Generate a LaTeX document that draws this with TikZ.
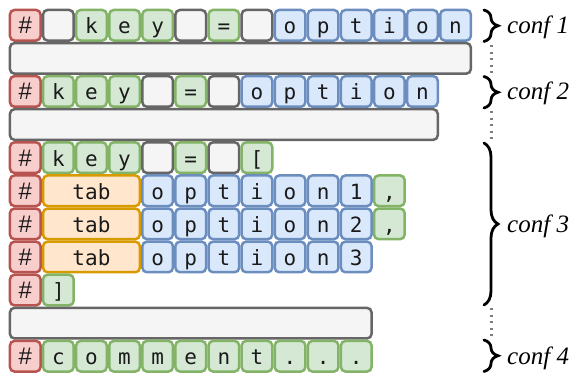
\documentclass[tikz,border=0pt]{standalone}
\usepackage{fontspec}
\setmainfont{Liberation Serif}
\newfontfamily\cellfont{DejaVu Sans Mono}
\newfontfamily\hashfont{Liberation Sans}
\usetikzlibrary{decorations.pathreplacing}
\definecolor{rfill}{HTML}{F8CECC}\definecolor{rdraw}{HTML}{B85450}
\definecolor{gfill}{HTML}{D5E8D4}\definecolor{gdraw}{HTML}{82B366}
\definecolor{bfill}{HTML}{DAE8FC}\definecolor{bdraw}{HTML}{6C8EBF}
\definecolor{ofill}{HTML}{FFE6CC}\definecolor{odraw}{HTML}{D79B00}
\definecolor{sfill}{HTML}{F5F5F5}\definecolor{sdraw}{HTML}{666666}
\definecolor{txt}{HTML}{1A1A1A}
\tikzset{
  cell/.style={draw, rounded corners=4.5pt, line width=2.5pt,
    minimum width=30.6pt, minimum height=30.6pt, inner sep=0pt,
    text height=19pt, text depth=2pt, text=txt,
    font=\cellfont\fontsize{21}{21}\selectfont},
  hashcell/.style={cell, fill=rfill, draw=rdraw, font=\hashfont\fontsize{24}{24}\selectfont},
  keycell/.style={cell, fill=gfill, draw=gdraw},
  optcell/.style={cell, fill=bfill, draw=bdraw},
  tabcell/.style={cell, fill=ofill, draw=odraw},
  spcell/.style={cell, fill=sfill, draw=sdraw},
  bracestyle/.style={decorate, decoration={brace, amplitude=14pt}, line width=2.8pt, line cap=round},
  dotline/.style={draw=sdraw!85, line width=2.2pt, dash pattern=on 2pt off 4.6pt},
  conf/.style={anchor=base west, inner sep=0pt, font=\itshape\fontsize{25}{25}\selectfont}
}
\newcommand\mkcells[4]{%
  \foreach \ch [count=\k from 0] in {#4}{%
    \pgfmathsetmacro\cx{25.25+33.1*(#2+\k)}%
    \pgfmathsetmacro\cy{25.25+33.1*#1}%
    \pgfmathtruncatemacro\cc{#2+\k}%
    \node[#3] (c-#1-\cc) at (\cx,\cy) {\ch};
  }}
\newcommand\mkwide[5]{%
  \pgfmathsetmacro\cx{8.7+33.1*#2+16.55*#3}%
  \pgfmathsetmacro\cy{25.25+33.1*#1}%
  \pgfmathsetmacro\ww{33.1*#3-2.5}%
  \node[#4, minimum width=\ww pt] (w-#1-#2) at (\cx,\cy) {#5};}
\begin{document}
\begin{tikzpicture}[x=1pt,y=-1pt]
\useasboundingbox (0,0) rectangle (574,377);
% row 0
\mkcells{0}{0}{hashcell}{\#}
\mkcells{0}{1}{spcell}{{}}
\mkcells{0}{2}{keycell}{k,e,y}
\mkcells{0}{5}{spcell}{{}}
\mkcells{0}{6}{keycell}{=}
\mkcells{0}{7}{spcell}{{}}
\mkcells{0}{8}{optcell}{o,p,t,i,o,n}
\mkwide{1}{0}{14}{spcell}{}
% row 2
\mkcells{2}{0}{hashcell}{\#}
\mkcells{2}{1}{keycell}{k,e,y}
\mkcells{2}{4}{spcell}{{}}
\mkcells{2}{5}{keycell}{=}
\mkcells{2}{6}{spcell}{{}}
\mkcells{2}{7}{optcell}{o,p,t,i,o,n}
\mkwide{3}{0}{13}{spcell}{}
% row 4
\mkcells{4}{0}{hashcell}{\#}
\mkcells{4}{1}{keycell}{k,e,y}
\mkcells{4}{4}{spcell}{{}}
\mkcells{4}{5}{keycell}{=}
\mkcells{4}{6}{spcell}{{}}
\mkcells{4}{7}{keycell}{{[}}
% rows 5-7
\mkcells{5}{0}{hashcell}{\#}
\mkwide{5}{1}{3}{tabcell}{tab}
\mkcells{5}{4}{optcell}{o,p,t,i,o,n,1}
\mkcells{5}{11}{keycell}{{,}}
\mkcells{6}{0}{hashcell}{\#}
\mkwide{6}{1}{3}{tabcell}{tab}
\mkcells{6}{4}{optcell}{o,p,t,i,o,n,2}
\mkcells{6}{11}{keycell}{{,}}
\mkcells{7}{0}{hashcell}{\#}
\mkwide{7}{1}{3}{tabcell}{tab}
\mkcells{7}{4}{optcell}{o,p,t,i,o,n,3}
% row 8
\mkcells{8}{0}{hashcell}{\#}
\mkcells{8}{1}{keycell}{{]}}
\mkwide{9}{0}{11}{spcell}{}
% row 10
\mkcells{10}{0}{hashcell}{\#}
\mkcells{10}{1}{keycell}{c,o,m,m,e,n,t,.,.,.}
% braces
\coordinate (b1t) at (484,10);  \coordinate (b1b) at (484,41.5);
\coordinate (b2t) at (484,76.5);  \coordinate (b2b) at (484,108);
\coordinate (b3t) at (484,143);  \coordinate (b3b) at (484,305);
\coordinate (b4t) at (484,340);  \coordinate (b4b) at (484,371.5);
\draw[bracestyle] (b1t) -- (b1b);
\draw[bracestyle] (b2t) -- (b2b);
\draw[bracestyle] (b3t) -- (b3b);
\draw[bracestyle] (b4t) -- (b4b);
\coordinate (d1a) at (491.5,45); \coordinate (d1b) at (491.5,74);
\coordinate (d2a) at (491.5,111); \coordinate (d2b) at (491.5,141);
\coordinate (d3a) at (491.5,308); \coordinate (d3b) at (491.5,338);
\draw[dotline] (d1a) -- (d1b);
\draw[dotline] (d2a) -- (d2b);
\draw[dotline] (d3a) -- (d3b);
\node[conf] (l1) at (507,34) {conf 1};
\node[conf] (l2) at (507,100) {conf 2};
\node[conf] (l3) at (507,233) {conf 3};
\node[conf] (l4) at (507,365) {conf 4};
\end{tikzpicture}
\end{document}
